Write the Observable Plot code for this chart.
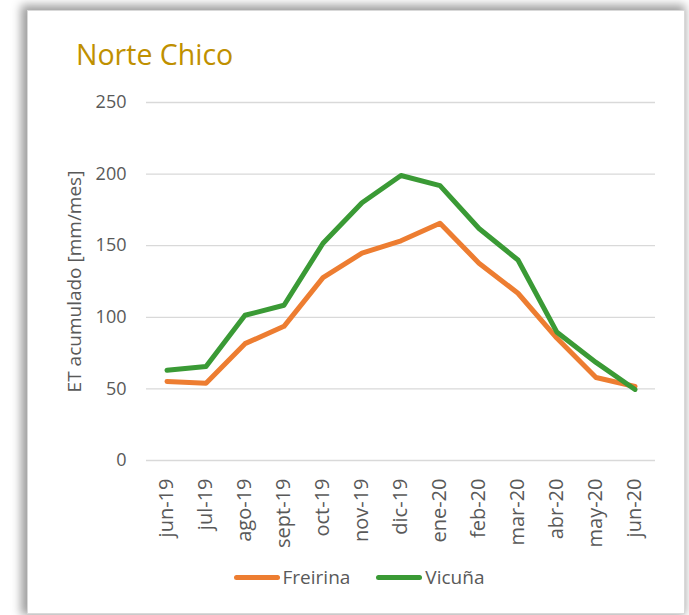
<!DOCTYPE html>
<html>
<head>
<meta charset="utf-8">
<script src="https://cdn.jsdelivr.net/npm/d3@7"></script>
<script src="https://cdn.jsdelivr.net/npm/@observablehq/plot@0.6"></script>
<style>
  html, body { margin: 0; padding: 0; background: #fff; width: 689px; height: 615px; overflow: hidden; }
  #frame {
    position: absolute; left: 27px; top: 10px; width: 656px; height: 602px;
    background: #fff; border: 1px solid #d9d9d9;
    box-shadow: -3px -2px 9px 3px rgba(0,0,0,0.38);
  }
  #title {
    position: absolute; left: 76px; top: 40px; margin: 0; line-height: 1;
    font-family: "Open Sans", sans-serif; font-weight: 400; font-size: 28.5px;
    color: #BF9000;
  }
  #chart { position: absolute; left: 0; top: 0; }
  #legend {
    position: absolute; left: 0; width: 689px; top: 565px; height: 24px;
    display: flex; justify-content: center; gap: 26px; padding-left: 29px; box-sizing: border-box;
    font-family: "Open Sans", sans-serif; font-size: 19px; color: #595959; line-height: 24px;
  }
  .item { display: flex; align-items: center; }
  .swatch { width: 46px; height: 5px; border-radius: 3px; margin-right: 3px; }
</style>
</head>
<body>
<div id="frame"></div>
<div id="chart"></div>
<h2 id="title">Norte Chico</h2>
<div id="legend"></div>
<script>
const months = ["jun-19","jul-19","ago-19","sept-19","oct-19","nov-19","dic-19","ene-20","feb-20","mar-20","abr-20","may-20","jun-20"];
const freirina = [55.2, 54, 81.6, 93.7, 127.7, 144.8, 153.4, 165.7, 137.8, 116.8, 85.3, 58, 51.7];
const vicuna = [63, 65.7, 101.4, 108.4, 151.7, 180, 199, 192, 162, 140, 89.5, 68.5, 49.6];
const yTicks = [0, 50, 100, 150, 200, 250];
const seriesNames = ["Freirina", "Vicuña"];
const seriesColors = ["#ED7D31", "#3A9A35"];

const data = [];
months.forEach((m, i) => {
  data.push({month: m, value: freirina[i], series: seriesNames[0]});
});
months.forEach((m, i) => {
  data.push({month: m, value: vicuna[i], series: seriesNames[1]});
});

const chart = Plot.plot({
  width: 689,
  height: 615,
  marginLeft: 146,
  marginRight: 34,
  marginTop: 102,
  marginBottom: 155,
  style: {fontFamily: "Open Sans, sans-serif", fontSize: "18px", color: "#595959", background: "transparent"},
  x: {type: "band", domain: months, padding: 0},
  y: {domain: [0, 250]},
  color: {domain: seriesNames, range: seriesColors},
  marks: [
    Plot.ruleY(yTicks, {stroke: "#d9d9d9", strokeWidth: 1.3}),
    Plot.axisY(yTicks, {tickSize: 0, tickPadding: 20, fontSize: 18, fill: "#595959",
      label: "ET acumulado [mm/mes]", labelAnchor: "center", labelArrow: "none", labelOffset: 79}),
    Plot.axisX({tickSize: 0, tickPadding: 18, tickRotate: -90, fontSize: 20, fill: "#595959", label: null}),
    Plot.line(data, {x: "month", y: "value", z: "series", stroke: "series",
      strokeWidth: 5, strokeLinejoin: "round", strokeLinecap: "round"})
  ]
});
document.getElementById("chart").appendChild(chart);
chart.querySelectorAll("g[aria-label='y-axis label'] text").forEach(t => t.setAttribute("font-size", 19));

const legend = document.getElementById("legend");
seriesNames.forEach((n, i) => {
  const it = document.createElement("div");
  it.className = "item";
  const sw = document.createElement("span");
  sw.className = "swatch";
  sw.style.background = seriesColors[i];
  const t = document.createElement("span");
  t.textContent = n;
  it.appendChild(sw); it.appendChild(t);
  legend.appendChild(it);
});
</script>
</body>
</html>
